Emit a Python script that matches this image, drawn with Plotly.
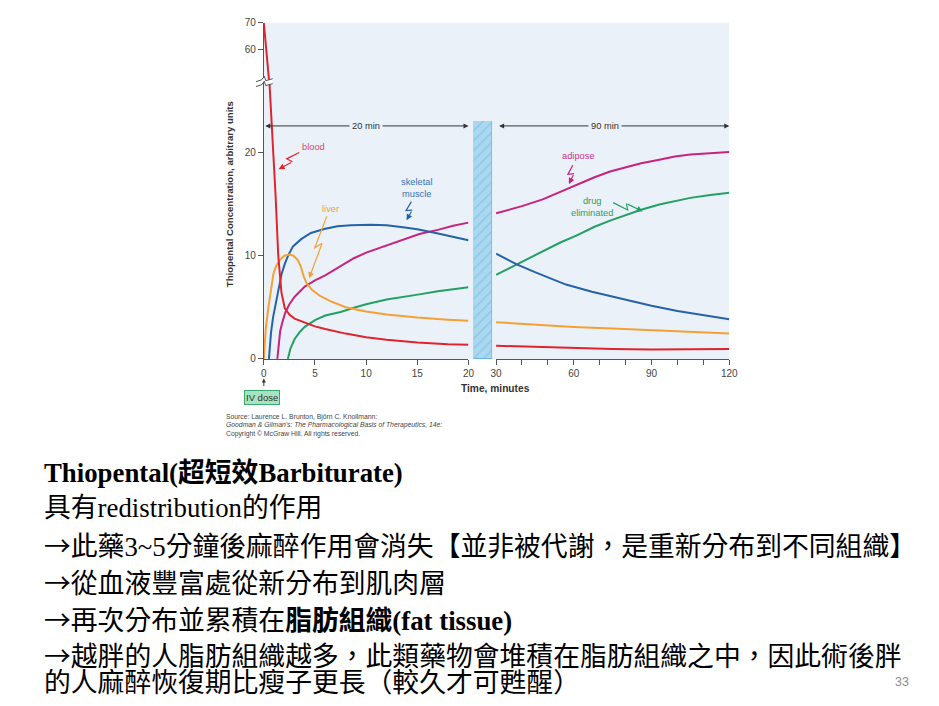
import plotly.graph_objects as go

W, H = 939, 706

# ---------------- data ----------------
# left panel: 0-20 min
blood_t = [0, 0.53, 0.55, 0.96, 1.15, 1.41, 1.73, 2.05, 2.5, 3.0, 4.0, 5.0, 6.0, 8.0, 10.0, 12.0, 15.0, 18.0, 20.0]
blood_v = [70, 47.4, 26.8, 20.0, 15.8, 10.0, 6.4, 4.9, 4.3, 3.9, 3.5, 3.15, 2.9, 2.45, 2.1, 1.85, 1.6, 1.42, 1.38]

liver_t = [0, 0.2, 0.45, 0.7, 0.93, 1.2, 1.57, 2.0, 2.5, 2.9, 3.3, 3.6, 3.9, 4.2, 4.7, 5.5, 6.5, 8.0, 10.0, 12.0, 15.0, 18.0, 20.0]
liver_v = [0, 3.0, 5.0, 6.8, 8.2, 9.0, 9.6, 10.0, 10.1, 10.0, 9.6, 9.0, 8.0, 7.3, 6.7, 6.1, 5.6, 5.0, 4.6, 4.3, 4.0, 3.8, 3.7]

muscle_t = [0.5, 0.7, 0.9, 1.09, 1.4, 1.73, 2.05, 2.37, 2.85, 3.65, 4.6, 6.0, 7.2, 8.5, 10.4, 12.0, 13.6, 15.0, 16.8, 18.5, 20.0]
muscle_v = [0, 2.5, 4.0, 5.0, 6.8, 8.2, 9.2, 10.0, 10.9, 11.6, 12.2, 12.6, 12.85, 12.95, 13.0, 12.95, 12.75, 12.55, 12.2, 11.85, 11.5]

adipose_t = [1.32, 1.45, 1.6, 1.8, 2.1, 2.5, 3.0, 4.0, 5.0, 6.0, 7.0, 8.8, 10.0, 12.0, 14.0, 15.2, 17.0, 18.5, 20.0]
adipose_v = [0, 1.6, 2.7, 3.5, 4.5, 5.3, 6.0, 7.0, 7.6, 8.1, 8.7, 9.75, 10.3, 11.0, 11.7, 12.1, 12.5, 12.9, 13.2]

elim_t = [2.35, 2.6, 3.0, 3.5, 4.0, 5.0, 6.0, 7.5, 8.8, 10.0, 12.0, 14.0, 15.2, 17.0, 18.5, 20.0]
elim_v = [0, 1.0, 1.9, 2.6, 3.1, 3.75, 4.2, 4.55, 4.95, 5.3, 5.75, 6.1, 6.25, 6.55, 6.75, 6.95]

# right panel: 30-120 min
blood_t2 = [30, 45, 60, 75, 90, 105, 120]
blood_v2 = [1.27, 1.15, 1.05, 0.97, 0.9, 0.9, 0.95]
liver_t2 = [30, 45, 60, 75, 90, 105, 120]
liver_v2 = [3.55, 3.3, 3.1, 2.95, 2.8, 2.65, 2.45]
muscle_t2 = [30, 38, 45, 57, 67, 76, 90, 100, 110, 120]
muscle_v2 = [10.2, 9.15, 8.4, 7.2, 6.5, 5.95, 5.15, 4.65, 4.25, 3.85]
adipose_t2 = [30, 40, 48, 55, 61, 68, 74, 80, 86, 93, 99, 105, 112, 120]
adipose_v2 = [14.1, 14.8, 15.45, 16.2, 16.9, 17.6, 18.15, 18.55, 18.95, 19.3, 19.6, 19.8, 19.95, 20.05]
elim_t2 = [30, 40, 48, 55, 61, 68, 74, 80, 86, 93, 99, 105, 112, 120]
elim_v2 = [8.15, 9.4, 10.45, 11.3, 11.95, 12.8, 13.4, 13.9, 14.45, 14.95, 15.3, 15.6, 15.85, 16.1]

x_ticks_left = [0, 5, 10, 15, 20]
x_ticks_right = [30, 60, 90, 120]
y_ticks_low = [0, 10, 20]
y_ticks_high = [60, 70]

ARW = "<span style=\"font-family:'Noto Sans CJK TC'\">→</span>"
slide_lines = [
    "<b>Thiopental(超短效Barbiturate)</b>",
    "具有redistribution的作用",
    ARW + "此藥3~5分鐘後麻醉作用會消失【並非被代謝，是重新分布到不同組織】",
    ARW + "從血液豐富處從新分布到肌肉層",
    ARW + "再次分布並累積在<b>脂肪組織(fat tissue)</b>",
    ARW + "越胖的人脂肪組織越多，此類藥物會堆積在脂肪組織之中，因此術後胖",
    "的人麻醉恢復期比瘦子更長（較久才可甦醒）",
]
slide_y = [475, 511, 548, 585, 623, 660, 689]

source_lines = [
    "Source: Laurence L. Brunton, Björn C. Knollmann:",
    "<i>Goodman &amp; Gilman's: The Pharmacological Basis of Therapeutics, 14e:</i>",
    "Copyright © McGraw Hill. All rights reserved.",
]

# ---------------- helpers ----------------
def X(px):
    return px / W

def Y(py):
    return 1 - py / H

RED, ORANGE, BLUE, MAGENTA, GREEN = "#E0242E", "#F2A235", "#2563A6", "#C8237E", "#23A062"
BG = "#EAF1F9"
AX = "#555555"

fig = go.Figure()

def add(t, v, color, xa="x", ya="y"):
    fig.add_trace(go.Scatter(x=t, y=v, mode="lines", line=dict(color=color, width=2),
                             xaxis=xa, yaxis=ya, hoverinfo="skip", showlegend=False))

add(elim_t, elim_v, GREEN)
add(adipose_t, adipose_v, MAGENTA)
add(muscle_t, muscle_v, BLUE)
add(liver_t, liver_v, ORANGE)
add(blood_t, blood_v, RED)
add(blood_t, blood_v, RED, "x", "y2")
add(elim_t2, elim_v2, GREEN, "x2")
add(adipose_t2, adipose_v2, MAGENTA, "x2")
add(muscle_t2, muscle_v2, BLUE, "x2")
add(liver_t2, liver_v2, ORANGE, "x2")
add(blood_t2, blood_v2, RED, "x2")

# hatched time-break bar
fig.add_trace(go.Bar(x=[0], y=[1], width=1, xaxis="x3", yaxis="y3", showlegend=False, hoverinfo="skip",
                     marker=dict(color="#A9D8F0", line=dict(color="#6AB2DA", width=1),
                                 pattern=dict(shape="/", fgcolor="#6AB2DA", size=7, solidity=0.18))))

tickfont = dict(family="Liberation Sans, Arial", size=10, color="#444")
common = dict(showline=True, linecolor=AX, linewidth=1, ticks="outside", ticklen=5, tickcolor=AX,
              tickwidth=1, showgrid=False, zeroline=False, tickfont=tickfont, fixedrange=True)

fig.update_layout(
    width=W, height=H, margin=dict(l=0, r=0, t=0, b=0),
    paper_bgcolor="white", plot_bgcolor="rgba(0,0,0,0)",
    showlegend=False, bargap=0,
    xaxis=dict(domain=[X(262), X(470)], range=[0, 20], anchor="y", tickvals=x_ticks_left, **common),
    xaxis2=dict(domain=[X(498), X(735)], range=[30, 120], anchor="y", tickvals=x_ticks_right,
                minor=dict(dtick=10, tick0=30, ticks="outside", ticklen=5, tickcolor=AX), **common),
    yaxis=dict(domain=[Y(359), Y(78)], range=[0, 26.76], anchor="x", tickvals=y_ticks_low, **common),
    yaxis2=dict(domain=[Y(78), Y(17)], range=[47.41, 70], anchor="x", tickvals=y_ticks_high, **common),
    xaxis3=dict(domain=[X(475), X(494)], range=[-0.5, 0.5], visible=False, fixedrange=True),
    yaxis3=dict(domain=[Y(359), Y(117)], range=[0, 1], anchor="x3", visible=False, fixedrange=True),
)

shapes = []
# plot background
shapes.append(dict(type="rect", xref="paper", yref="paper", x0=X(262), x1=X(735), y0=Y(359), y1=Y(17),
                   fillcolor=BG, line=dict(width=0), layer="below"))

# axis break marks
def pth(pts, close=False):
    s = "M " + " L ".join(f"{X(a):.5f},{Y(b):.5f}" for a, b in pts)
    return s + (" Z" if close else "")

top = [(254, 77), (260, 75), (262.5, 71.5), (264, 76), (271, 74)]
bot = [(a, b + 5) for a, b in top]
shapes.append(dict(type="path", xref="paper", yref="paper", path=pth(top + bot[::-1], True),
                   fillcolor="white", line=dict(width=0), layer="above"))
shapes.append(dict(type="path", xref="paper", yref="paper", path=pth(top), line=dict(color=AX, width=1)))
shapes.append(dict(type="path", xref="paper", yref="paper", path=pth(bot), line=dict(color=AX, width=1)))

annotations = []

# lightning arrows
def lightning(p0, p1, color):
    (x0, y0), (x1, y1) = p0, p1
    dx, dy = x1 - x0, y1 - y0
    L = (dx * dx + dy * dy) ** 0.5
    nx, ny = -dy / L, dx / L
    A = (x0 + 0.52 * dx + 3 * nx, y0 + 0.52 * dy + 3 * ny)
    B = (x0 + 0.42 * dx - 3 * nx, y0 + 0.42 * dy - 3 * ny)
    shapes.append(dict(type="path", xref="paper", yref="paper", path=pth([p0, A, B]),
                       line=dict(color=color, width=1.2)))
    annotations.append(dict(xref="paper", yref="paper", x=X(x1), y=Y(y1), ax=B[0] - x1, ay=B[1] - y1,
                            text="", showarrow=True, arrowhead=2, arrowsize=1, arrowwidth=1.2,
                            arrowcolor=color))

lightning((298, 149), (277, 166), RED)
lightning((326, 214), (308, 277), ORANGE)
lightning((412, 199), (407, 218), BLUE)
lightning((576, 162), (572, 181), MAGENTA)
lightning((617, 200), (647, 209), GREEN)

lab = dict(family="Liberation Sans, Arial", size=9.3)

def label(txt, px, py, color, **kw):
    annotations.append(dict(xref="paper", yref="paper", x=X(px), y=Y(py), text=txt, showarrow=False,
                            xanchor="center", yanchor="middle",
                            font=dict(color=color, **lab), **kw))

label("blood", 312, 143, "#E04860")
label("liver", 330, 207, "#F0A040")
label("skeletal<br>muscle", 418, 185.5, "#3A72B2")
label("adipose", 582, 153, "#C8338E")
label("drug<br>eliminated", 596, 204.5, "#2AA066")

# time-span arrows
yarr = (359 - 122) / 10.5
annotations.append(dict(xref="x", yref="y", x=20, y=yarr, axref="x", ayref="y", ax=0, ay=yarr, text="",
                        showarrow=True, arrowside="end+start", arrowhead=2, startarrowhead=2,
                        arrowsize=1, startarrowsize=1, arrowwidth=1, arrowcolor="#333"))
annotations.append(dict(xref="x2", yref="y", x=120, y=yarr, axref="x2", ayref="y", ax=30.6, ay=yarr,
                        text="", showarrow=True, arrowside="end+start", arrowhead=2, startarrowhead=2,
                        arrowsize=1, startarrowsize=1, arrowwidth=1, arrowcolor="#333"))
for txt, xx, xr in [("20 min", 10, "x"), ("90 min", 72, "x2")]:
    annotations.append(dict(xref=xr, yref="y", x=xx, y=yarr, text=txt, showarrow=False, bgcolor=BG,
                            xanchor="center", yanchor="middle",
                            borderpad=2, font=dict(color="#333", **lab)))

# axis titles
annotations.append(dict(xref="paper", yref="paper", x=X(497), y=Y(389), text="<b>Time, minutes</b>",
                        xanchor="center", yanchor="middle",
                        showarrow=False, font=dict(family="Liberation Sans, Arial", size=10.2, color="#333")))
annotations.append(dict(xref="paper", yref="paper", x=X(227), y=Y(191), textangle=-90,
                        xanchor="center", yanchor="middle",
                        text="<b>Thiopental Concentration, arbitrary units</b>", showarrow=False,
                        font=dict(family="Liberation Sans, Arial", size=9.6, color="#333")))

# IV dose
annotations.append(dict(xref="x", yref="paper", x=0, y=Y(379), ax=0, ay=9, text="", showarrow=True,
                        arrowhead=2, arrowsize=0.8, arrowwidth=1, arrowcolor="#333"))
annotations.append(dict(xref="paper", yref="paper", x=X(260), y=Y(398.5), text="IV dose", showarrow=False,
                        xanchor="center", yanchor="middle",
                        bgcolor="#A6E3C2", bordercolor="#3AAA70", borderwidth=1, borderpad=1,
                        font=dict(family="Liberation Sans, Arial", size=9.5, color="#333")))

# source
for i, s in enumerate(source_lines):
    annotations.append(dict(xref="paper", yref="paper", x=X(222), y=Y(418 + 8.5 * i), xanchor="left",
                            yanchor="middle", text=s, showarrow=False,
                            font=dict(family="Liberation Sans, Arial", size=6.8, color="#444")))

# slide text
for i, (s, py) in enumerate(zip(slide_lines, slide_y)):
    extra = dict(height=28.5, valign="middle") if i >= 5 else {}
    annotations.append(dict(xref="paper", yref="paper", x=X(37), y=Y(py), xanchor="left", yanchor="middle",
                            text=s, showarrow=False, **extra,
                            font=dict(family="Liberation Serif, Noto Sans CJK TC", size=26.8, color="#000")))
annotations.append(dict(xref="paper", yref="paper", x=X(911), y=Y(688), text="33", showarrow=False,
                        xanchor="center", yanchor="middle",
                        font=dict(family="Liberation Sans, Arial", size=12.5, color="#8C8C8C")))

fig.update_layout(shapes=shapes, annotations=annotations)
fig.write_html("out.html")
